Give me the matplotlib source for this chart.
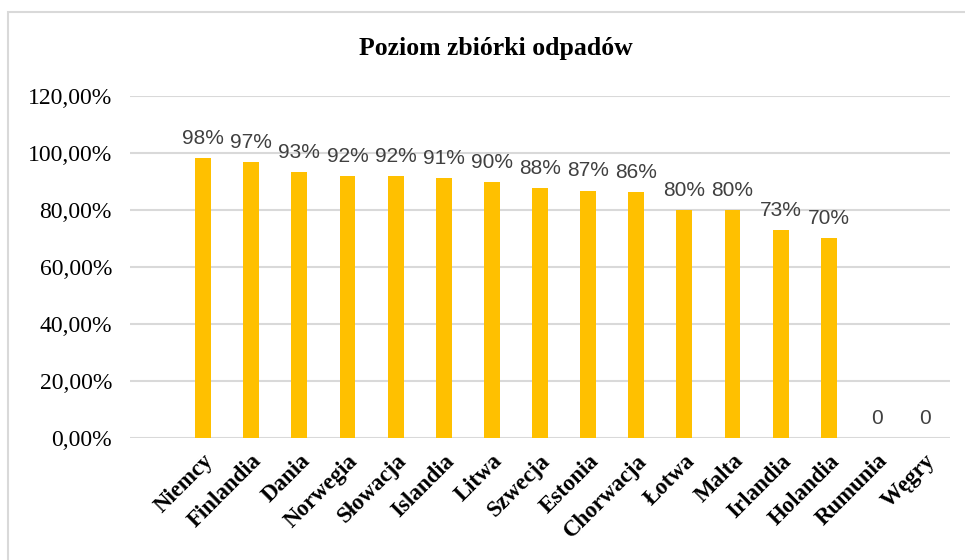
import matplotlib
matplotlib.use("Agg")
import matplotlib.pyplot as plt
from matplotlib.patches import Rectangle
from matplotlib.ticker import FuncFormatter

countries = ["Niemcy", "Finlandia", "Dania", "Norwegia", "Słowacja", "Islandia",
             "Litwa", "Szwecja", "Estonia", "Chorwacja", "Łotwa", "Malta",
             "Irlandia", "Holandia", "Rumunia", "Węgry"]
values = [0.982, 0.968, 0.933, 0.918, 0.918, 0.912, 0.898, 0.877,
          0.868, 0.862, 0.80, 0.80, 0.73, 0.70, 0.0, 0.0]
value_labels = ["98%", "97%", "93%", "92%", "92%", "91%", "90%", "88%",
                "87%", "86%", "80%", "80%", "73%", "70%", "0", "0"]
yticks = [0, 0.2, 0.4, 0.6, 0.8, 1.0, 1.2]

serif = "Liberation Serif"
sans = "Liberation Sans"

fig = plt.figure(figsize=(9.65, 5.6), dpi=100)
ax = fig.add_axes([0.1347, 0.2179, 0.8498, 0.6107])

# chart frame
fig.patches.append(Rectangle((8 / 965, -0.1), 1.2, 1 - 12 / 560 + 0.1,
                             transform=fig.transFigure, fill=False,
                             edgecolor="#D9D9D9", linewidth=1.5))

x = list(range(len(countries)))
ax.bar(x, values, width=0.33, color="#FFC000", zorder=3)

for xi, v, lab in zip(x, values, value_labels):
    ax.annotate(lab, (xi, v), xytext=(0, 7.5), textcoords="offset points",
                ha="center", va="bottom", fontsize=15, color="#404040",
                family=sans)

ax.set_xlim(-1.52, 15.52)
ax.set_ylim(0, 1.2)
ax.set_yticks(yticks)
ax.yaxis.set_major_formatter(FuncFormatter(lambda v, p: f"{v*100:.2f}%".replace(".", ",")))
ax.grid(axis="y", color="#D9D9D9", linewidth=1.5, zorder=0)
ax.tick_params(axis="y", length=0, pad=13, labelsize=17)
for t in ax.get_yticklabels():
    t.set_family(serif)

ax.set_xticks(x)
ax.set_xticklabels(countries, rotation=45, ha="right", rotation_mode="anchor",
                   fontsize=16.5, fontweight="bold", family=serif)
ax.tick_params(axis="x", length=0, pad=9)

for s in ax.spines.values():
    s.set_visible(False)

fig.text(0.514, 1 - 48 / 560, "Poziom zbiórki odpadów", ha="center", va="center",
         fontsize=18.5, fontweight="bold", family=serif)

fig.savefig("out.png", dpi=100)
